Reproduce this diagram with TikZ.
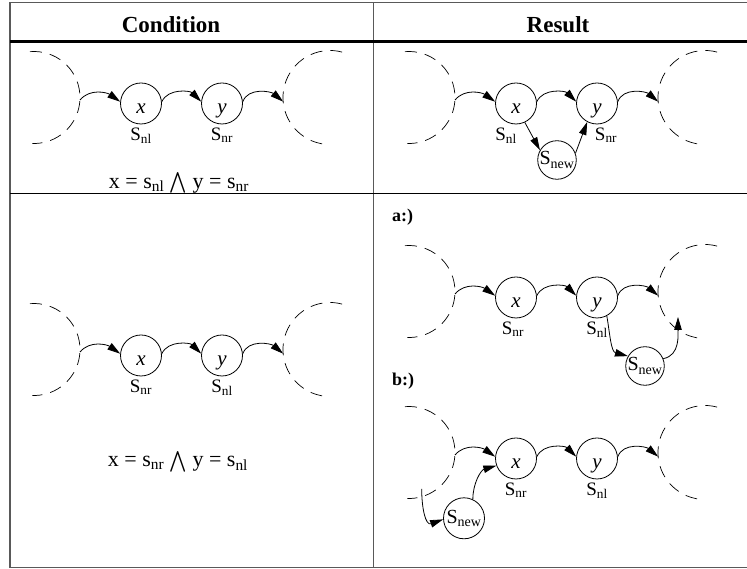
\documentclass[tikz,border=0pt]{standalone}
\usepackage{exscale}
\usepackage{fontspec}
\setmainfont{Liberation Serif}
\usetikzlibrary{arrows.meta,positioning}

\begin{document}
\begin{tikzpicture}[x=1pt, y=1pt,
    every node/.style={inner sep=0pt},
    cell/.style={circle, draw, line width=0.8pt, minimum size=41pt,
        font=\fontsize{21}{21}\selectfont\itshape, text height=20pt, text depth=0pt},
    newcell/.style={circle, draw, line width=0.8pt, minimum size=35pt,
        font=\fontsize{20}{20}\selectfont},
    lbl/.style={font=\fontsize{19}{19}\selectfont},
    formula/.style={font=\fontsize{22}{22}\selectfont},
    head/.style={font=\fontsize{23}{23}\selectfont\bfseries},
    tag/.style={font=\fontsize{18}{18}\selectfont\bfseries, anchor=west},
    dashline/.style={line width=0.7pt, dash pattern=on 12pt off 8pt},
    arr/.style={line width=0.8pt, -{Triangle[length=13pt,width=7.5pt]}},
    frame/.style={line width=1.2pt, black!65}]
    \useasboundingbox (0,0) rectangle (747,569);

    % table
    \draw[frame] (747,566.5) -- (10,566.5) -- (10,1.5) -- (747,1.5);
    \draw[frame] (373.5,1.5) -- (373.5,566.5);
    \draw[line width=3pt] (10,527) -- (747,527);
    \draw[line width=0.8pt] (10,376) -- (747,376);
    \node[head] (hc) at (171,544) {Condition};
    \node[head] (hr) at (558,544) {Result};

    % the chain ... x -> y ... in every cell
    \foreach \p/\dx/\dy/\la/\lb/\sa/\sb in {tl/0/0/nl/nr/0/0, tr/375/0/nl/nr/-10/9,
        bl/0/-252/nr/nl/0/0, ra/375/-194/nr/nl/-3/0, rb/375/-355/nr/nl/0/0}{
      \begin{scope}[shift={(\dx,\dy)}]
        \draw[dashline] (34,471.5) ++(95:46pt) arc[start angle=95, end angle=-92, radius=46pt];
        \draw[dashline] (330,471.5) ++(75:47pt) arc[start angle=75, end angle=270, radius=47pt];
        \coordinate (\p-lo) at (80,469);
        \coordinate (\p-ri) at (283.2,467.3);
        \node[cell] (\p-x) at (141,465.5) {x};
        \node[cell] (\p-y) at (222,465.5) {y};
        \node[lbl, below=3pt of \p-x, xshift=\sa pt] (\p-sx) {S\textsubscript{\la}};
        \node[lbl, below=3pt of \p-y, xshift=\sb pt] (\p-sy) {S\textsubscript{\lb}};
        \draw[arr] (\p-lo) to[out=50, in=145] (\p-x.175);
        \draw[arr] (\p-x.5) to[out=65, in=135] (\p-y.175);
        \draw[arr] (\p-y.5) to[out=70, in=140] (\p-ri);
      \end{scope}
    }

    % conditions
    \node[formula] (tl-f) at (179,386) {x = s\textsubscript{nl} $\bigwedge$ y = s\textsubscript{nr}};
    \node[formula] (bl-f) at (178,107.5) {x = s\textsubscript{nr} $\bigwedge$ y = s\textsubscript{nl}};

    % results
    \node[newcell] (tr-n) at (557,409) {S\textsubscript{new}};
    \draw[arr] (tr-x.-65) -- (tr-n.150);
    \draw[arr] (tr-n.20) -- (tr-y.-118);

    \node[tag] (ta) at (392,352) {a:)};
    \node[newcell] (ra-n) at (645,203) {S\textsubscript{new}};
    \coordinate (ra-tip) at (678,252);
    \draw[arr] (ra-y.-62) to[out=-80, in=165] (ra-n.150);
    \draw[arr] (ra-n.22) to[out=10, in=-90] (ra-tip);

    \node[tag] (tb) at (392,188) {b:)};
    \node[newcell, minimum size=41pt] (rb-n) at (464,50.7) {S\textsubscript{new}};
    \coordinate (rb-s) at (421.7,80);
    \draw[arr] (rb-s) to[out=-90, in=200, looseness=1.3] (rb-n.183);
    \draw[arr] (rb-n.65) to[out=90, in=196] (rb-x.200);
\end{tikzpicture}
\end{document}
